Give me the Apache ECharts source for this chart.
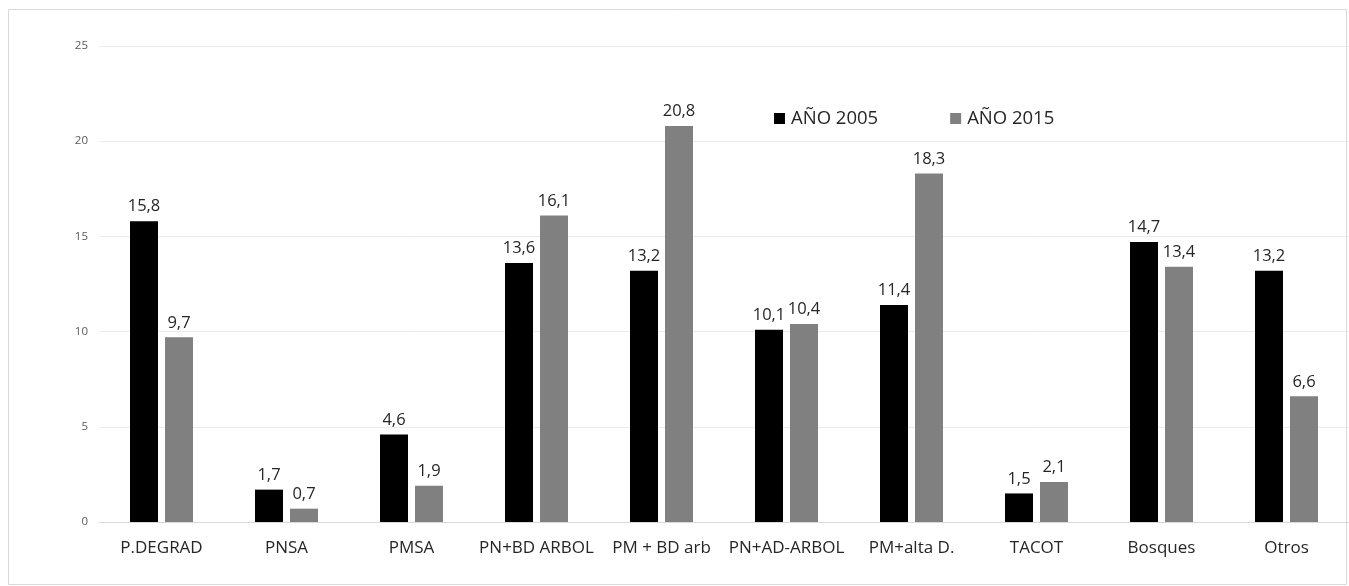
<!DOCTYPE html>
<html><head><meta charset="utf-8">
<script src="https://cdn.jsdelivr.net/npm/echarts@6/dist/echarts.min.js"></script>
<style>html,body{margin:0;padding:0;background:#fff}#c{width:1349px;height:586px}</style>
</head><body><div id="c"></div>
<script>
const categories = ['P.DEGRAD','PNSA','PMSA','PN+BD ARBOL','PM + BD arb','PN+AD-ARBOL','PM+alta D.','TACOT','Bosques','Otros'];
const year2005 = [15.8,1.7,4.6,13.6,13.2,10.1,11.4,1.5,14.7,13.2];
const year2015 = [9.7,0.7,1.9,16.1,20.8,10.4,18.3,2.1,13.4,6.6];
const seriesNames = ['AÑO 2005','AÑO 2015'];
const yTicks = {min:0,max:25,interval:5};
const FONT = 'Open Sans';
const chart = echarts.init(document.getElementById('c'));
const lbl = {show:true,position:'top',distance:6,color:'#262626',fontSize:16.5,fontFamily:FONT,
  formatter:p=>String(p.value).replace('.',',')};
chart.setOption({
  animation:false,
  textStyle:{fontFamily:FONT},
  graphic:[{type:'rect',shape:{x:8.5,y:9.5,width:1338,height:575},style:{fill:'none',stroke:'#d9d9d9',lineWidth:1},silent:true}],
  legend:{top:104,left:769,itemWidth:11,itemHeight:11,itemGap:72,icon:'rect',
    textStyle:{fontSize:18.5,color:'#262626',fontFamily:FONT,padding:[0,0,0,1]},data:seriesNames},
  grid:{left:99,right:0,top:46,bottom:64,containLabel:false},
  xAxis:{type:'category',data:categories,axisTick:{show:false},
    axisLine:{lineStyle:{color:'#d9d9d9'}},
    axisLabel:{color:'#262626',fontSize:17,margin:18,fontFamily:FONT,interval:0}},
  yAxis:{type:'value',min:yTicks.min,max:yTicks.max,interval:yTicks.interval,
    axisLine:{show:false},axisTick:{show:false},
    splitLine:{lineStyle:{color:'#ebebeb'}},
    axisLabel:{color:'#595959',fontSize:11.5,margin:11,fontFamily:FONT}},
  series:[
    {name:seriesNames[0],type:'bar',data:year2005,barWidth:28,barGap:'25%',itemStyle:{color:'#000000'},label:lbl},
    {name:seriesNames[1],type:'bar',data:year2015,barWidth:28,barGap:'25%',itemStyle:{color:'#808080'},label:lbl}
  ]
});
</script></body></html>
